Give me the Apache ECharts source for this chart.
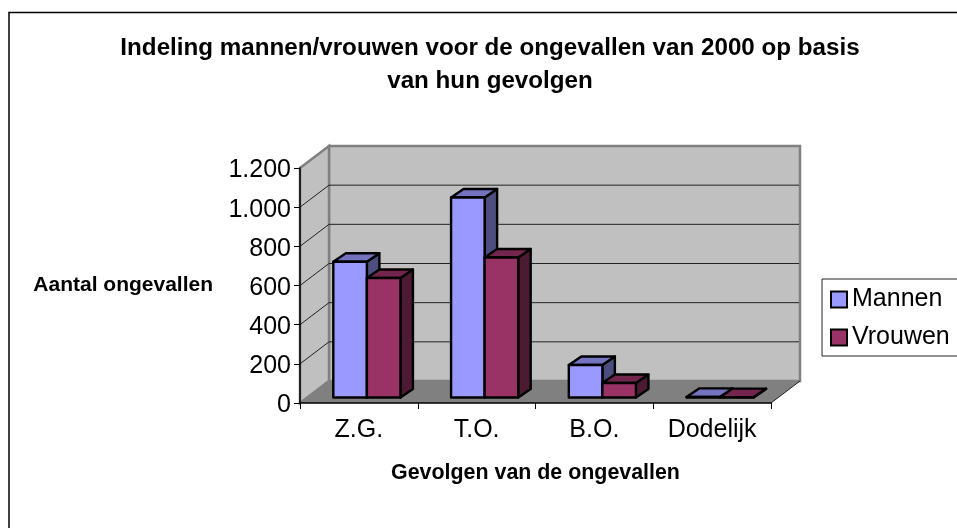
<!DOCTYPE html>
<html>
<head>
<meta charset="utf-8">
<style>
  html, body { margin: 0; padding: 0; background: #fff; }
  #chart { width: 957px; height: 528px; }
</style>
</head>
<body>
<div id="chart"></div>
<script src="https://cdn.jsdelivr.net/npm/echarts@6/dist/echarts.min.js"></script>
<script>
const categories = ['Z.G.', 'T.O.', 'B.O.', 'Dodelijk']
const mannen = [693, 1021, 166, 3]
const vrouwen = [610, 715, 74, 2]
const yTicks = [0, 200, 400, 600, 800, 1000, 1200]

// 3D look: how far the back wall sits from the axes, in px
const wallDx = 29
const wallDy = 22
// bars stand a bit in from the front of the floor
const barOffsetDx = 8
const barOffsetDy = 5.5
const barDepthDx = 12.5
const barDepthDy = 8.5
const barShare = 0.285

const font = '"Liberation Sans", Arial, sans-serif'

function renderWalls (params, api) {
  const cs = params.coordSys
  const left = cs.x
  const right = cs.x + cs.width
  const top = cs.y
  const bottom = cs.y + cs.height
  const children = []
  const poly = (points, fill, stroke, lineWidth) => ({
    type: 'polygon',
    shape: { points },
    style: { fill, stroke: stroke || 'none', lineWidth: lineWidth || 0 }
  })
  // back wall, side wall, floor
  children.push(poly([[left + wallDx, top - wallDy], [right + wallDx, top - wallDy], [right + wallDx, bottom - wallDy], [left + wallDx, bottom - wallDy]], '#c0c0c0', '#808080', 2.5))
  children.push(poly([[left, top], [left + wallDx, top - wallDy], [left + wallDx, bottom - wallDy], [left, bottom]], '#c0c0c0', '#808080', 2.5))
  children.push(poly([[left, bottom], [left + wallDx, bottom - wallDy], [right + wallDx, bottom - wallDy], [right, bottom]], '#808080'))
  yTicks.forEach((t) => {
    if (t === 0 || t === yTicks[yTicks.length - 1]) {
      return
    }
    const y = api.coord([0, t])[1]
    children.push({
      type: 'polyline',
      shape: { points: [[left, y], [left + wallDx, y - wallDy], [right + wallDx - 1, y - wallDy]] },
      style: { fill: 'none', stroke: '#222', lineWidth: 1 }
    })
  })
  children.push({
    type: 'line',
    shape: { x1: right, y1: bottom, x2: right + wallDx, y2: bottom - wallDy },
    style: { stroke: '#222', lineWidth: 1 }
  })
  return { type: 'group', children }
}

function barRenderer (slot, front, topFace, sideFace) {
  return function (params, api) {
    const base = api.coord([api.value(0), 0])
    const tip = api.coord([api.value(0), api.value(1)])
    const w = api.size([1, 0])[0] * barShare
    const x0 = base[0] - w + slot * w + barOffsetDx
    const x1 = x0 + w
    const y0 = base[1] - barOffsetDy
    const y1 = tip[1] - barOffsetDy
    const edge = { stroke: '#000', lineWidth: 2.4, lineJoin: 'round' }
    return {
      type: 'group',
      children: [
        {
          type: 'polygon',
          shape: { points: [[x1, y0], [x1 + barDepthDx, y0 - barDepthDy], [x1 + barDepthDx, y1 - barDepthDy], [x1, y1]] },
          style: Object.assign({ fill: sideFace }, edge)
        },
        {
          type: 'polygon',
          shape: { points: [[x0, y1], [x0 + barDepthDx, y1 - barDepthDy], [x1 + barDepthDx, y1 - barDepthDy], [x1, y1]] },
          style: Object.assign({ fill: topFace }, edge)
        },
        {
          type: 'rect',
          shape: { x: x0, y: y1, width: w, height: y0 - y1 },
          style: Object.assign({ fill: front }, edge)
        }
      ]
    }
  }
}

const chart = echarts.init(document.getElementById('chart'))
chart.setOption({
  animation: false,
  backgroundColor: '#fff',
  textStyle: { fontFamily: font },
  title: {
    text: 'Indeling mannen/vrouwen voor de ongevallen van 2000 op basis\nvan hun gevolgen',
    left: 485,
    top: 27,
    textAlign: 'center',
    textStyle: { fontFamily: font, fontSize: 24.2, fontWeight: 'bold', color: '#000', lineHeight: 33 }
  },
  grid: { left: 300, top: 168, width: 471, height: 235, outerBoundsMode: 'none' },
  legend: {
    left: 822,
    top: 279,
    orient: 'vertical',
    data: ['Mannen', 'Vrouwen'],
    itemWidth: 16,
    itemHeight: 16,
    itemGap: 13,
    padding: [8, 30, 6, 8],
    backgroundColor: '#fff',
    borderColor: '#222',
    borderWidth: 1,
    borderRadius: 0,
    icon: 'rect',
    textStyle: { fontFamily: font, fontSize: 25, color: '#000', padding: [0, 0, 0, 0] }
  },
  xAxis: {
    type: 'category',
    data: categories,
    z: 6,
    name: 'Gevolgen van de ongevallen',
    nameLocation: 'middle',
    nameGap: 60,
    nameTextStyle: { fontFamily: font, fontSize: 21.4, fontWeight: 'bold', color: '#000' },
    axisLine: { lineStyle: { color: '#000', width: 1.5 } },
    axisTick: { show: true, length: 6, alignWithLabel: false, lineStyle: { color: '#000' } },
    axisLabel: { interval: 0, margin: 15, fontFamily: font, fontSize: 25, color: '#000' }
  },
  yAxis: {
    type: 'value',
    min: 0,
    max: 1200,
    interval: 200,
    z: 6,
    name: 'Aantal ongevallen',
    nameLocation: 'middle',
    nameRotate: 0,
    nameGap: 87,
    nameTextStyle: { fontFamily: font, fontSize: 21, fontWeight: 'bold', color: '#000' },
    splitLine: { show: false },
    axisLine: { show: true, lineStyle: { color: '#000', width: 1.5 } },
    axisTick: { show: true, length: 6, lineStyle: { color: '#000' } },
    axisLabel: {
      margin: 9,
      formatter: (v) => '{tick|' + String(v).replace(/\B(?=(\d{3})+$)/g, '.') + '}',
      rich: {
        // pushes the digits down onto the tick
        tick: { fontFamily: font, fontSize: 25, color: '#000', padding: [5, 0, 0, 0] }
      }
    }
  },
  series: [
    {
      name: 'walls',
      type: 'custom',
      silent: true,
      z: 1,
      data: [[0, 0]],
      renderItem: renderWalls
    },
    {
      name: 'Mannen',
      type: 'custom',
      z: 2,
      itemStyle: { color: '#9999ff', borderColor: '#000', borderWidth: 2 },
      data: categories.map((c, i) => [i, mannen[i]]),
      renderItem: barRenderer(0, '#9999ff', '#7373bf', '#4d4d80')
    },
    {
      name: 'Vrouwen',
      type: 'custom',
      z: 3,
      itemStyle: { color: '#993366', borderColor: '#000', borderWidth: 2 },
      data: categories.map((c, i) => [i, vrouwen[i]]),
      renderItem: barRenderer(1, '#993366', '#73264d', '#4d1a33')
    }
  ],
  graphic: [
    {
      // chart area frame, runs off the page at the right and bottom
      type: 'rect',
      z: 0,
      silent: true,
      shape: { x: 9, y: 12.5, width: 1000, height: 600 },
      style: { fill: 'none', stroke: '#000', lineWidth: 1.5 }
    }
  ]
})
</script>
</body>
</html>
